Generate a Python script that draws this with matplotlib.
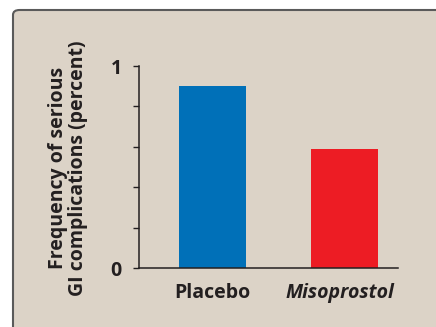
import matplotlib
matplotlib.use('Agg')
import matplotlib.pyplot as plt
import matplotlib.transforms as mtransforms
from matplotlib.patches import FancyBboxPatch

# data
groups = ['Placebo', 'Misoprostol']
freq = [0.90, 0.59]
colors = ['#0070b8', '#ed1c24']

bg = '#dcd3c7'
ink = '#231f20'

plt.rcParams['font.family'] = ['Open Sans', 'DejaVu Sans']

fig = plt.figure(figsize=(4.36, 3.27), dpi=100)
fig.patch.set_facecolor('white')

# rounded panel behind the chart
panel = FancyBboxPatch((13/436, -0.2), 1.0, 1.2 - 10/327,
                       boxstyle='round,pad=0,rounding_size=0.015',
                       transform=fig.transFigure, facecolor=bg,
                       edgecolor='#5a5a5a', linewidth=1.5, zorder=-5)
fig.add_artist(panel)

ax = fig.add_axes([139/436, 1 - 268/327, 259/436, 202/327])
ax.set_facecolor('none')
ax.set_zorder(2)

x = range(len(groups))
ax.bar(x, freq, width=0.508, color=colors, zorder=2)

ax.set_xlim(-0.557, 1.405)
ax.set_ylim(0, 1)

for s in ['top', 'right']:
    ax.spines[s].set_visible(False)
for s in ['left', 'bottom']:
    ax.spines[s].set_color(ink)
    ax.spines[s].set_linewidth(1.1)

ax.set_yticks([0, 1])
ax.set_yticklabels(['0', '1'], fontsize=14, fontweight='bold', color=ink)
ax.set_yticks([0.2, 0.4, 0.6, 0.8], minor=True)
ax.tick_params(axis='y', which='both', length=4.5, width=1.0, color=ink,
               direction='out', pad=8)

ax.set_xticks(list(x))
ax.set_xticklabels(groups, fontsize=14, fontweight='bold', color=ink)
ax.tick_params(axis='x', length=0, pad=11)
lbl = ax.get_xticklabels()[1]
lbl.set_style('italic')
# italic label sits a little left of its bar in the original
shift = mtransforms.ScaledTranslation(-5/100, 0, fig.dpi_scale_trans)
lbl.set_transform(lbl.get_transform() + shift)

fig.text(68/436, 1 - 168/327,
         'Frequency of serious\nGI complications (percent)',
         rotation=90, ha='center', va='center', fontsize=14,
         fontweight='bold', color=ink, linespacing=1.05)

plt.savefig('out.png', dpi=100, facecolor=fig.get_facecolor())
